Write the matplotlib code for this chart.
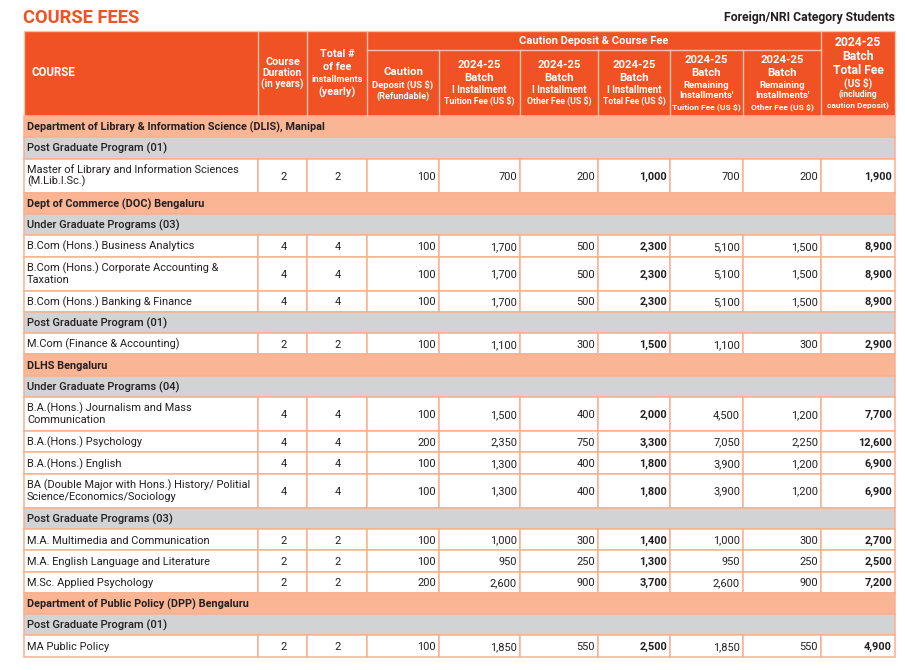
import matplotlib.pyplot as plt
from matplotlib.patches import Rectangle

plt.rcParams['font.family'] = ['Roboto', 'DejaVu Sans']

# ---- data ----
departments = [
    "Department of Library & Information Science (DLIS), Manipal",
    "Dept of Commerce (DOC) Bengaluru",
    "DLHS Bengaluru",
    "Department of Public Policy (DPP) Bengaluru",
]
programs = [
    "Post Graduate Program (01)",
    "Under Graduate Programs (03)",
    "Post Graduate Program (01)",
    "Under Graduate Programs (04)",
    "Post Graduate Programs (03)",
    "Post Graduate Program (01)",
]
program_dept = [0, 1, 1, 2, 2, 3]

courses = [
    "Master of Library and Information Sciences\n(M.Lib.I.Sc.)",
    "B.Com (Hons.) Business Analytics",
    "B.Com (Hons.) Corporate Accounting &\nTaxation",
    "B.Com (Hons.) Banking & Finance",
    "M.Com (Finance & Accounting)",
    "B.A.(Hons.) Journalism and Mass\nCommunication",
    "B.A.(Hons.) Psychology",
    "B.A.(Hons.) English",
    "BA (Double Major with Hons.) History/ Politial\nScience/Economics/Sociology",
    "M.A. Multimedia and Communication",
    "M.A. English Language and Literature",
    "M.Sc. Applied Psychology",
    "MA Public Policy",
]
course_program = [0, 1, 1, 1, 2, 3, 3, 3, 3, 4, 4, 4, 5]
duration = [2, 4, 4, 4, 2, 4, 4, 4, 4, 2, 2, 2, 2]
installments = [2, 4, 4, 4, 2, 4, 4, 4, 4, 2, 2, 2, 2]
caution = [100, 100, 100, 100, 100, 100, 200, 100, 100, 100, 100, 200, 100]
tuition_1 = [700, 1700, 1700, 1700, 1100, 1500, 2350, 1300, 1300, 1000, 950, 2600, 1850]
other_1 = [200, 500, 500, 500, 300, 400, 750, 400, 400, 300, 250, 900, 550]
total_1 = [1000, 2300, 2300, 2300, 1500, 2000, 3300, 1800, 1800, 1400, 1300, 3700, 2500]
tuition_rest = [700, 5100, 5100, 5100, 1100, 4500, 7050, 3900, 3900, 1000, 950, 2600, 1850]
other_rest = [200, 1500, 1500, 1500, 300, 1200, 2250, 1200, 1200, 300, 250, 900, 550]
total_fee = [1900, 8900, 8900, 8900, 2900, 7700, 12600, 6900, 6900, 2700, 2500, 7200, 4900]

# ---- style / layout ----
ORANGE = '#F05223'
SALMON = '#F9B594'
GREY = '#D1D3D4'
BORDER = '#F9B08E'
HDR_LINE = '#FAC2A8'
INK = '#231F20'
BODY = 7.9
BASE = 4.0  # half cap height in px, to put the baseline below the row centre

col_x = [24, 258, 307, 367, 439, 520, 598, 670, 743, 821, 895]
hdr_top, hdr_mid, hdr_bot = 31, 50, 116
h1, h2 = 21.3, 34.0

fig = plt.figure(figsize=(9.05, 6.70), dpi=100)
ax = fig.add_axes([0, 0, 1, 1])
ax.set_xlim(0, 905)
ax.set_ylim(670, 0)
ax.axis('off')

ax.text(23, 18, "COURSE FEES", color=ORANGE, fontsize=13.2, fontweight='bold',
        ha='left', va='center')
ax.text(895, 18, "Foreign/NRI Category Students", color=INK, fontsize=8.8,
        fontweight='bold', ha='right', va='center')

# header block
ax.add_patch(Rectangle((col_x[0], hdr_top), col_x[-1] - col_x[0], hdr_bot - hdr_top,
                       facecolor=ORANGE, edgecolor=HDR_LINE, lw=1.0))
for i in range(1, len(col_x) - 1):
    top = hdr_mid if 4 <= i <= 8 else hdr_top
    ax.plot([col_x[i], col_x[i]], [top, hdr_bot], color=HDR_LINE, lw=1.0)
ax.plot([col_x[3], col_x[9]], [hdr_mid, hdr_mid], color=HDR_LINE, lw=1.0)


def hdr_lines(cx, lines):
    for y, txt, size in lines:
        ax.text(cx, y, txt, color='white', fontsize=size, fontweight='bold',
                ha='center', va='center')


def mid(i):
    return (col_x[i] + col_x[i + 1]) / 2


ax.text(31, 73, "COURSE", color='white', fontsize=8.3, fontweight='bold',
        ha='left', va='center')
hdr_lines(mid(1), [(62, "Course", 7.8), (73, "Duration", 7.4), (84.5, "(in years)", 7.2)])
hdr_lines(mid(2), [(54, "Total #", 7.8), (67, "of fee", 7.8), (80, "installments", 6.6),
                   (92.5, "(yearly)", 7.8)])
hdr_lines(mid(3), [(72, "Caution", 8.2), (84.5, "Deposit (US $)", 6.8),
                   (96, "(Refundable)", 6.6)])
hdr_lines((col_x[3] + col_x[9]) / 2, [(41, "Caution Deposit & Course Fee", 8.0)])
for i, sub in zip([4, 5, 6], ["Tuition Fee (US $)", "Other Fee (US $)", "Total Fee (US $)"]):
    hdr_lines(mid(i), [(65, "2024-25", 8.2), (78, "Batch", 8.2),
                       (90, "I Installment", 6.9), (100.5, sub, 6.3)])
for i, sub in zip([7, 8], ["Tuition Fee (US $)", "Other Fee (US $)"]):
    hdr_lines(mid(i), [(60, "2024-25", 8.2), (73, "Batch", 8.2), (85, "Remaining", 6.8),
                       (96, "Installments'", 6.8), (107, sub, 6.1)])
hdr_lines(mid(9), [(43, "2024-25", 8.7), (56, "Batch", 8.7), (70, "Total Fee", 8.7),
                   (83, "(US $)", 7.2), (94.5, "(including", 6.2),
                   (105, "caution Deposit)", 6.0)])

# body rows
y = hdr_bot
width = col_x[-1] - col_x[0]
last_dept, last_prog = -1, -1
for k, name in enumerate(courses):
    p = course_program[k]
    d = program_dept[p]
    if d != last_dept:
        ax.add_patch(Rectangle((col_x[0], y), width, h1, facecolor=SALMON,
                               edgecolor=BORDER, lw=1.1))
        ax.text(col_x[0] + 3, y + h1 / 2 + BASE, departments[d], color=INK, fontsize=7.8,
                fontweight='bold', ha='left', va='baseline')
        y += h1
        last_dept = d
    if p != last_prog:
        ax.add_patch(Rectangle((col_x[0], y), width, h1, facecolor=GREY,
                               edgecolor=BORDER, lw=1.1))
        ax.text(col_x[0] + 3, y + h1 / 2 + BASE, programs[p], color=INK, fontsize=8.0,
                fontweight='medium', ha='left', va='baseline')
        y += h1
        last_prog = p
    h = h2 if '\n' in name else h1
    for i in range(len(col_x) - 1):
        ax.add_patch(Rectangle((col_x[i], y), col_x[i + 1] - col_x[i], h,
                               facecolor='white', edgecolor=BORDER, lw=1.1))
    cy = y + h / 2
    if '\n' in name:
        ax.text(col_x[0] + 3, cy, name, color=INK, fontsize=BODY, ha='left',
                va='center', linespacing=1.1)
    else:
        ax.text(col_x[0] + 3, cy + BASE, name, color=INK, fontsize=BODY, ha='left',
                va='baseline')
    ax.text(mid(1) + 1, cy + BASE, str(duration[k]), color=INK, fontsize=BODY,
            ha='center', va='baseline')
    ax.text(mid(2) + 1, cy + BASE, str(installments[k]), color=INK, fontsize=BODY,
            ha='center', va='baseline')
    values = [caution[k], tuition_1[k], other_1[k], total_1[k],
              tuition_rest[k], other_rest[k], total_fee[k]]
    for j, v in enumerate(values):
        bold = j in (3, 6)
        ax.text(col_x[j + 4] - 3, cy + BASE, f"{v:,}", color=INK, fontsize=BODY,
                fontweight='bold' if bold else 'normal', ha='right', va='baseline')
    y += h

fig.savefig('out.png', dpi=100)
